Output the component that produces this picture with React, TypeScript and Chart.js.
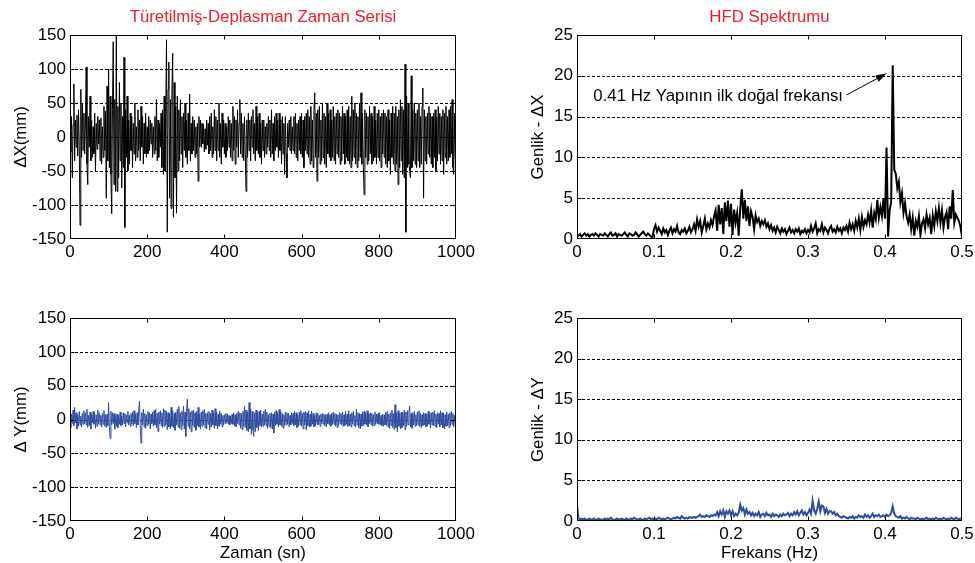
import React, { useEffect, useRef } from "react";
import { Chart, registerables } from "chart.js";

Chart.register(...registerables);

// ---------------- DATA ----------------
const TIME_STEP = 2; // s between samples
const FREQ_STEP = 0.002; // Hz between spectral lines

// ΔX time series (mm), one value every TIME_STEP seconds, 0..998 s
const DX_SERIES = [
  5, -22, 30, -60, 18, 78, -35, 25, -15, 32,
  -28, 40, -12, -130, 70, -30, 50, -20, 35, -25,
  20, 103, -40, -70, 30, -15, 60, -35, 25, -30,
  15, -25, 35, -50, 20, -18, 30, -10, 25, -35,
  28, -40, 15, -30, 45, -20, 38, -90, 75, -35,
  100, -45, 60, -55, -113, 40, 140, -70, 55, -80,
  150, -80, 45, -60, 80, -35, 50, -75, 30, -45,
  117, -133, 40, -30, 60, -50, 25, -40, 35, -20,
  30, -45, 20, -25, 50, -35, 15, -30, 40, -20,
  25, -35, 45, -15, 30, -40, 20, -25, 35, -30,
  15, -25, 30, -20, 25, -10, 20, -30, 15, -25,
  30, -20, 55, -35, 25, -30, 20, -15, 35, -45,
  40, -55, 60, -50, 35, 143, -140, 70, 110, -90,
  55, -105, 65, 123, -118, 80, -60, 45, -112, 60,
  -50, 40, -35, 55, -25, 30, -45, 35, -20, 50,
  -30, 25, -40, 35, -20, 63, -35, 20, -25, 30,
  -20, 25, -30, 15, -25, 20, -65, 30, -15, 25,
  -15, 20, -10, 18, -22, 12, -18, 25, -12, 20,
  -25, 30, -20, 35, -30, 15, -25, 40, -20, 30,
  -35, 25, -20, 50, -30, 20, -40, 35, -15, 25,
  -25, 20, -30, 15, -20, 30, -15, 25, -30, 20,
  -35, 45, -20, 30, -40, 25, -15, 40, -30, 20,
  55, -25, 35, -30, 20, -35, 30, -20, -80, 25,
  -30, 35, -20, 25, -35, 30, -15, 40, -25, 20,
  -35, 45, -20, 30, -25, 35, -30, 20, -40, 25,
  -20, 25, -30, 15, -25, 20, -15, 30, -20, 25,
  -30, 40, -25, 20, -35, 30, -20, 35, -15, 25,
  -30, 35, -20, 25, -40, 30, -25, 20, -55, 30,
  -25, -60, 20, -15, 25, -20, 30, -25, 15, -20,
  30, -25, 35, -30, 20, -35, 25, -20, 30, -25,
  35, -30, 25, -45, 30, -20, 35, -25, 40, -30,
  30, -40, 45, -35, 25, -45, 40, 65, -30, 35,
  -65, 40, -30, 45, -40, 25, -35, 50, -30, 35,
  -40, 30, -45, 50, -25, 35, -30, 40, -35, 25,
  -30, 45, -35, 30, -40, 35, -25, 40, -30, 35,
  -40, 30, -35, 45, -25, 35, -40, 30, -30, 40,
  -35, 45, -40, 30, -45, 60, -35, 40, -30, 50,
  -40, 35, -45, 30, -35, 50, -30, 65, -40, 35,
  -45, -85, 40, -30, 35, -40, 30, -35, 45, -25,
  35, -40, 30, -35, 45, -30, 25, -40, 35, -30,
  40, -35, 30, -45, 35, -25, 40, -30, 35, -40,
  30, -45, 40, -35, 25, -55, 35, -30, 45, -40,
  35, -50, 45, -40, 30, -70, 40, -45, 55, -35,
  45, -55, 40, -60, 107, -140, 60, -45, 50, -40,
  -50, -60, 90, -45, 40, -35, 50, -40, 35, -45,
  40, -35, 50, -45, 30, -40, 45, 72, -90, 40,
  -35, 30, -40, 35, -25, 45, -30, 35, -40, 30,
  -45, 35, -30, 40, -50, 30, -35, 45, -25, 35,
  -40, 30, -35, 40, -55, 35, -30, 45, -40, 30,
  -35, 40, -30, 45, -25, 55, -45, -55, 35, -30,
];

// ΔY time series (mm)
const DY_SERIES = [
  5, -12, 8, -6, 14, -9, 18, -5, 10, -14,
  7, -10, 12, -8, 5, -11, 9, -7, 13, -6,
  10, -8, 15, -12, 6, -9, 11, -14, 8, -5,
  12, -7, 9, -13, 7, -10, 14, -6, 10, -8,
  6, -11, 9, -7, 13, -10, 7, -12, 8, -9,
  25, -10, -28, 12, -8, 10, -6, 9, -14, 7,
  -10, 8, -12, 6, -7, 11, -9, 5, -8, 10,
  -6, 9, -11, 7, -5, 12, -8, 6, -10, 9,
  -7, 11, -9, 13, -6, 8, -12, 10, -8, 14,
  27, -12, -35, 10, -8, 15, -11, 9, -13, 7,
  -9, 12, -7, 10, -14, 8, -6, 11, -10, 13,
  -8, 15, -12, 9, -18, 11, -7, 13, -9, 10,
  -12, 16, -10, 14, -8, 12, -15, 10, -11, 9,
  -14, 18, -10, 13, -12, 9, -16, 11, -8, 15,
  -11, 19, -13, 10, -15, 12, -9, 20, -14, 11,
  -25, 12, 30, -10, 16, -14, 11, -18, 13, -9,
  14, -12, 10, -16, 12, -9, 18, -11, 8, -14,
  11, -10, 13, -8, 15, -12, 9, -14, 10, -7,
  12, -15, 9, -11, 14, -8, 10, -13, 16, -9,
  11, -14, 8, -10, 12, -7, 9, -11, 6, -8,
  7, -6, 9, -5, 8, -7, 6, -8, 5, -6,
  8, -7, 10, -9, 7, -11, 9, -6, 12, -8,
  10, -13, 9, -15, 12, -10, 20, -12, 14, -16,
  11, -18, 25, -14, 16, -22, 12, -15, -25, 10,
  -18, 14, -12, 10, -16, 12, -9, 14, -11, 8,
  -10, 12, -8, 15, -9, 11, -13, 7, -10, 9,
  -12, 10, -14, 8, -20, 11, -9, 13, -7, 10,
  -11, 15, -8, 12, -10, 9, -13, 7, -9, 11,
  -8, 10, -7, 9, -11, 6, -8, 10, -6, 9,
  -9, 12, -8, 10, -12, 7, -10, 11, -8, 13,
  -10, 9, -14, 11, -8, 12, -15, 10, -9, 13,
  -11, 8, -10, 12, -7, 9, -11, 6, -9, 10,
  -7, 9, -8, 6, -10, 8, -6, 9, -7, 8,
  -9, 7, -11, 8, -6, 10, -8, 7, -10, 9,
  -8, 11, -7, 9, -10, 8, -12, 7, -9, 10,
  -6, 9, -8, 11, -10, 7, -9, 12, -7, 8,
  -10, 13, -9, 8, -11, 10, -7, 12, -9, 6,
  -11, 15, -8, 10, -12, 9, -14, 8, -10, 11,
  -9, 12, -7, 10, -8, 13, -11, 9, -6, 10,
  -8, 9, -10, 7, -9, 11, -7, 8, -6, 9,
  -7, 10, -8, 6, -9, 8, -10, 7, -8, 11,
  -9, 12, -11, 8, -13, 10, -9, 14, -12, 9,
  -15, 22, -12, 10, -18, 13, -10, 9, -14, 11,
  -12, 10, -9, 14, -15, 11, -10, 13, -8, 12,
  20, -11, 9, -13, 10, -8, 12, -10, 7, -9,
  11, -8, 13, -10, 9, -12, 7, -9, 10, -8,
  9, -11, 8, -10, 12, -7, 9, -13, 10, -8,
  11, -9, 13, -10, 8, -12, 10, -7, 9, -11,
  13, -8, 10, -12, 9, -14, 7, -10, 11, -9,
  8, -12, 10, -9, 12, -7, 9, -11, 6, -8,
];

// HFD spectrum amplitude of ΔX, one value every FREQ_STEP Hz, 0..0.5 Hz
const SPEC_X = [
  0.5, 0.4, 0.6, 0.3, 0.5, 0.7, 0.4, 0.6, 0.3, 0.5,
  0.6, 0.4, 0.7, 0.5, 0.3, 0.6, 0.5, 0.4, 0.7, 0.5,
  0.3, 0.6, 0.8, 0.4, 0.5, 0.7, 0.3, 0.6, 0.5, 0.4,
  0.6, 0.8, 0.5, 0.3, 0.7, 0.6, 0.4, 0.5, 0.8, 0.6,
  0.3, 0.5, 0.7, 0.9, 0.6, 0.4, 0.7, 0.5, 0.3, 0.2,
  1.2, 1.7, 0.9, 1.4, 1.0, 0.6, 1.3, 0.8, 1.1, 0.5,
  1.0, 1.4, 0.7, 1.2, 0.9, 1.6, 0.8, 0.6, 1.1, 0.9,
  1.3, 0.7, 1.0, 1.5, 0.8,
  1.2, 1.8, 1.0, 2.4, 1.5, 2.2, 0.8, 1.6, 2.5, 1.2,
  1.9, 1.4, 2.3, 1.7, 2.8,
  3.5, 1.0, 4.2, 1.8, 3.8, 0.6, 4.5, 2.2, 4.7, 1.5,
  4.3, 0.5, 3.6, 2.0, 3.2, 0.4, 3.8, 6.1, 2.5, 4.8,
  2.2, 4.0, 1.6, 3.4, 2.7, 1.2, 2.9, 2.1, 2.5, 1.6,
  2.2, 1.8, 2.3, 1.5, 1.9,
  1.2, 1.7, 1.0, 1.4, 0.8, 1.5, 1.1, 0.7, 1.3, 0.9,
  1.2, 0.6, 1.0, 1.4, 0.8, 1.1, 0.7, 1.2, 0.9, 1.3,
  0.6, 1.0, 0.8, 1.2, 0.7,
  1.1, 0.8, 1.6, 0.9, 1.3, 1.9, 0.7, 1.2, 1.0, 1.8,
  0.8, 1.4, 1.1, 0.7, 1.3, 1.6, 0.9, 1.2, 0.8, 1.5,
  1.0, 1.3, 0.7, 1.4, 1.1,
  1.6, 0.9, 2.0, 1.2, 1.8, 1.0, 2.2, 1.4, 2.5, 1.1,
  2.7, 1.5, 2.3, 1.8, 3.0,
  2.0, 3.5, 1.4, 3.2, 2.4, 4.8, 2.6, 3.9, 2.8, 5.0,
  2.5,
  11.2, 0.3, 3.5, 4.5, 21.3, 8.5,
  8.0, 6.2, 7.0, 4.5, 5.6, 3.2, 4.4, 2.8,
  2.0, 3.0, 1.2, 2.6, 0.4, 2.2, 1.5, 2.8, 0.5, 1.9,
  2.4, 1.3, 3.0, 1.8, 2.6, 0.6, 2.9, 1.6, 3.4, 2.2,
  3.8, 2.0, 3.5, 1.4, 2.7, 3.3, 1.2, 4.0, 2.5, 6.0,
  2.0, 3.0, 2.6, 2.2, 1.5, 0.3,
];

// HFD spectrum amplitude of ΔY
const SPEC_Y = [
  2.0, 0.3, 0.2, 0.3, 0.2, 0.3, 0.1, 0.2, 0.3, 0.2,
  0.2, 0.3, 0.1, 0.2, 0.3, 0.2, 0.2, 0.1, 0.3, 0.2,
  0.3, 0.2, 0.4, 0.2, 0.1, 0.2, 0.3, 0.2, 0.2, 0.3,
  0.2, 0.1, 0.3, 0.2, 0.2, 0.3, 0.2, 0.4, 0.3, 0.2,
  0.2, 0.3, 0.2, 0.1, 0.3, 0.2, 0.3, 0.4, 0.2, 0.3,
  0.2, 0.3, 0.2, 0.4, 0.3, 0.2, 0.3, 0.2, 0.3, 0.4,
  0.3, 0.2, 0.3, 0.4, 0.3, 0.5, 0.4, 0.3, 0.6, 0.4,
  0.3, 0.4, 0.3, 0.5, 0.4,
  0.4, 0.5, 0.4, 0.5, 0.6, 0.8, 0.5, 0.6, 0.5, 0.7,
  0.6, 0.5, 0.7, 0.6, 0.8,
  0.7, 1.1, 0.6, 1.2, 0.8, 1.3, 0.5, 1.2, 0.9, 1.3,
  0.7, 1.2, 0.6, 0.9, 0.7,
  1.0, 2.0, 1.3, 1.6, 0.8, 1.4, 0.9, 1.1, 0.7, 1.0,
  0.6, 0.9, 0.7, 1.1, 0.5, 0.8, 0.9, 0.6, 1.0, 0.7,
  0.8, 0.5, 0.9, 0.6, 0.8, 0.7, 0.5, 0.8, 0.6, 0.9,
  0.7, 0.8, 1.0, 0.6, 0.9, 0.7, 1.1, 0.8, 1.2, 0.7,
  1.0, 1.3, 0.8, 1.1, 0.7,
  1.0, 1.4, 0.9, 2.5, 1.3, 0.9, 1.5, 2.4, 1.2, 1.9,
  1.8, 1.0, 1.5, 0.9, 1.2,
  1.2, 0.9, 1.1, 0.7, 0.9, 0.6, 0.5, 0.4, 0.6, 0.5,
  0.4, 0.3, 0.5, 0.4, 0.6, 0.3, 0.5, 0.4, 0.7, 0.5,
  0.6, 0.4, 0.8, 0.5, 0.7, 0.4, 0.6, 0.9, 0.5, 0.7,
  0.6, 0.8, 0.5, 0.6, 0.7,
  0.5, 0.8, 0.6, 0.7, 1.0, 1.8, 0.9, 0.6, 0.5, 0.4, 0.6,
  0.3, 0.4, 0.3, 0.5, 0.3, 0.2, 0.4, 0.3, 0.3, 0.2,
  0.4, 0.3, 0.2, 0.3, 0.2, 0.3, 0.4, 0.2, 0.3, 0.2,
  0.3, 0.2, 0.4, 0.3, 0.2, 0.3, 0.2, 0.4, 0.3, 0.2,
  0.3, 0.2, 0.4, 0.3, 0.2, 0.4, 0.3, 0.2, 0.3, 0.2,
];

// axis ranges / tick steps
const TIME_RANGE = [0, 1000];
const TIME_TICK = 200;
const DISP_RANGE = [-150, 150];
const DISP_TICK = 50;
const FREQ_RANGE = [0, 0.5];
const FREQ_TICK = 0.1;
const AMP_RANGE = [0, 25];
const AMP_TICK = 5;

// annotation (data coordinates of the top-right panel)
const ANNOT_TEXT = "0.41 Hz Yapının ilk doğal frekansı";
const ANNOT_TEXT_AT = [0.3455, 17.45];
const ANNOT_ARROW_FROM = [0.3502, 17.65];
const ANNOT_ARROW_TO = [0.4022, 20.3];

// ---------------- STYLE ----------------
const FONT = "'Liberation Sans', Arial, Helvetica, sans-serif";
const LABEL_SIZE = 16.8;
const TICK_SIZE = 17;
const RED = "#e8212a";
const BLUE = "#2f4b9f";

const toXY = (vals: number[], step: number) => vals.map((v, i) => ({ x: i * step, y: v }));
const fmtTick = (v: any) => String(+Number(v).toFixed(4));

const framePlugin = {
  id: "frame",
  beforeDatasetsDraw(chart: any) {
    const { ctx, chartArea: a, scales } = chart;
    const y = scales.y;
    ctx.save();
    ctx.strokeStyle = "#000";
    ctx.lineWidth = 1;
    ctx.setLineDash([3, 2]);
    y.ticks.forEach((t: any) => {
      if (t.value <= y.min || t.value >= y.max) return;
      const py = Math.round(y.getPixelForValue(t.value)) + 0.5;
      ctx.beginPath();
      ctx.moveTo(a.left, py);
      ctx.lineTo(a.right, py);
      ctx.stroke();
    });
    ctx.restore();
  },
  afterDraw(chart: any) {
    const { ctx, chartArea: a, scales } = chart;
    const { x, y } = scales;
    ctx.save();
    ctx.strokeStyle = "#000";
    ctx.lineWidth = 1;
    ctx.setLineDash([]);
    const L = Math.round(a.left) + 0.5;
    const R = Math.round(a.right) - 0.5;
    const T = Math.round(a.top) + 0.5;
    const B = Math.round(a.bottom) - 0.5;
    ctx.strokeRect(L, T, R - L, B - T);
    ctx.beginPath();
    x.ticks.forEach((t: any) => {
      if (t.value <= x.min || t.value >= x.max) return;
      const px = Math.round(x.getPixelForValue(t.value)) + 0.5;
      ctx.moveTo(px, B);
      ctx.lineTo(px, B - 4);
      ctx.moveTo(px, T);
      ctx.lineTo(px, T + 4);
    });
    y.ticks.forEach((t: any) => {
      if (t.value <= y.min || t.value >= y.max) return;
      const py = Math.round(y.getPixelForValue(t.value)) + 0.5;
      ctx.moveTo(L, py);
      ctx.lineTo(L + 4, py);
      ctx.moveTo(R, py);
      ctx.lineTo(R - 4, py);
    });
    ctx.stroke();
    ctx.restore();
  },
};

const annotPlugin = {
  id: "annot",
  afterDatasetsDraw(chart: any) {
    const { ctx, scales } = chart;
    const { x, y } = scales;
    ctx.save();
    ctx.fillStyle = "#000";
    ctx.strokeStyle = "#000";
    ctx.font = `${LABEL_SIZE}px ${FONT}`;
    ctx.textAlign = "right";
    ctx.textBaseline = "middle";
    ctx.fillText(ANNOT_TEXT, x.getPixelForValue(ANNOT_TEXT_AT[0]), y.getPixelForValue(ANNOT_TEXT_AT[1]));
    const x0 = x.getPixelForValue(ANNOT_ARROW_FROM[0]);
    const y0 = y.getPixelForValue(ANNOT_ARROW_FROM[1]);
    const x1 = x.getPixelForValue(ANNOT_ARROW_TO[0]);
    const y1 = y.getPixelForValue(ANNOT_ARROW_TO[1]);
    const ang = Math.atan2(y1 - y0, x1 - x0);
    const hl = 11;
    const hw = 3.5;
    const bx = x1 - hl * Math.cos(ang);
    const by = y1 - hl * Math.sin(ang);
    ctx.lineWidth = 1;
    ctx.beginPath();
    ctx.moveTo(x0, y0);
    ctx.lineTo(bx, by);
    ctx.stroke();
    ctx.beginPath();
    ctx.moveTo(x1, y1);
    ctx.lineTo(bx + hw * Math.sin(ang), by - hw * Math.cos(ang));
    ctx.lineTo(bx - hw * Math.sin(ang), by + hw * Math.cos(ang));
    ctx.closePath();
    ctx.fill();
    ctx.restore();
  },
};

type PanelOpts = {
  values: number[];
  step: number;
  color: string;
  lineWidth: number;
  xRange: number[];
  xTick: number;
  yRange: number[];
  yTick: number;
  title?: string;
  xTitle?: string;
  yTitle: string;
  yWidth: number;
  yTitlePad: number;
  padTop: number;
  padRight: number;
  xHeight: number;
  annotate?: boolean;
};

function buildConfig(o: PanelOpts): any {
  const plugins: any[] = [framePlugin];
  if (o.annotate) plugins.push(annotPlugin);
  return {
    type: "line",
    data: {
      datasets: [
        {
          data: toXY(o.values, o.step),
          borderColor: o.color,
          borderWidth: o.lineWidth,
          pointRadius: 0,
          tension: 0,
          fill: false,
        },
      ],
    },
    plugins,
    options: {
      animation: false,
      responsive: false,
      devicePixelRatio: 1,
      events: [],
      layout: { padding: { left: 0, top: o.padTop, right: o.padRight, bottom: 0 } },
      plugins: {
        legend: { display: false },
        tooltip: { enabled: false },
        title: {
          display: !!o.title,
          text: o.title || "",
          color: RED,
          fullSize: false,
          font: { family: FONT, size: LABEL_SIZE, weight: "normal", lineHeight: 1.2 },
          padding: { top: 7, bottom: 7.8 },
        },
      },
      scales: {
        x: {
          type: "linear",
          min: o.xRange[0],
          max: o.xRange[1],
          grid: { display: false, drawTicks: false, tickLength: 0 },
          border: { display: false },
          ticks: {
            stepSize: o.xTick,
            autoSkip: false,
            maxRotation: 0,
            padding: 3,
            color: "#000",
            font: { family: FONT, size: TICK_SIZE },
            callback: fmtTick,
          },
          title: {
            display: !!o.xTitle,
            text: o.xTitle || "",
            color: "#000",
            font: { family: FONT, size: LABEL_SIZE },
            padding: { top: 0, bottom: 0 },
          },
          afterFit: (s: any) => {
            s.height = o.xHeight;
            s.paddingLeft = 0;
            s.paddingRight = 0;
          },
        },
        y: {
          type: "linear",
          min: o.yRange[0],
          max: o.yRange[1],
          grid: { display: false, drawTicks: false, tickLength: 0 },
          border: { display: false },
          ticks: {
            stepSize: o.yTick,
            padding: 4,
            color: "#000",
            font: { family: FONT, size: TICK_SIZE },
            callback: fmtTick,
          },
          title: {
            display: true,
            text: o.yTitle,
            color: "#000",
            font: { family: FONT, size: LABEL_SIZE },
            padding: { top: o.yTitlePad, bottom: 0 },
          },
          afterFit: (s: any) => {
            s.width = o.yWidth;
          },
        },
      },
    },
  };
}

function Panel({ left, top, width, height, opts }: { left: number; top: number; width: number; height: number; opts: PanelOpts }) {
  const ref = useRef<HTMLCanvasElement>(null);
  useEffect(() => {
    const chart = new Chart(ref.current as HTMLCanvasElement, buildConfig(opts));
    return () => chart.destroy();
  }, []);
  return (
    <canvas
      ref={ref}
      width={width}
      height={height}
      style={{ position: "absolute", left, top, width, height, display: "block" }}
    />
  );
}

export default function App() {
  return (
    <div style={{ position: "fixed", left: 0, top: 0, width: 975, height: 563, background: "#fff", overflow: "hidden" }}>
      <Panel
        left={0}
        top={0}
        width={487}
        height={270}
        opts={{
          values: DX_SERIES, step: TIME_STEP, color: "#000", lineWidth: 1,
          xRange: TIME_RANGE, xTick: TIME_TICK, yRange: DISP_RANGE, yTick: DISP_TICK,
          title: "Türetilmiş-Deplasman Zaman Serisi", yTitle: "ΔX(mm)",
          yWidth: 70, yTitlePad: 11, padTop: 0, padRight: 31, xHeight: 31,
        }}
      />
      <Panel
        left={487}
        top={0}
        width={488}
        height={270}
        opts={{
          values: SPEC_X, step: FREQ_STEP, color: "#000", lineWidth: 2,
          xRange: FREQ_RANGE, xTick: FREQ_TICK, yRange: AMP_RANGE, yTick: AMP_TICK,
          title: "HFD Spektrumu", yTitle: "Genlik - ΔX",
          yWidth: 90, yTitlePad: 41, padTop: 0, padRight: 13, xHeight: 31, annotate: true,
        }}
      />
      <Panel
        left={0}
        top={270}
        width={487}
        height={293}
        opts={{
          values: DY_SERIES, step: TIME_STEP, color: BLUE, lineWidth: 1,
          xRange: TIME_RANGE, xTick: TIME_TICK, yRange: DISP_RANGE, yTick: DISP_TICK,
          xTitle: "Zaman (sn)", yTitle: "Δ Y(mm)",
          yWidth: 70, yTitlePad: 11, padTop: 48, padRight: 31, xHeight: 42,
        }}
      />
      <Panel
        left={487}
        top={270}
        width={488}
        height={293}
        opts={{
          values: SPEC_Y, step: FREQ_STEP, color: BLUE, lineWidth: 2,
          xRange: FREQ_RANGE, xTick: FREQ_TICK, yRange: AMP_RANGE, yTick: AMP_TICK,
          xTitle: "Frekans (Hz)", yTitle: "Genlik - ΔY",
          yWidth: 90, yTitlePad: 41, padTop: 48, padRight: 13, xHeight: 42,
        }}
      />
    </div>
  );
}
